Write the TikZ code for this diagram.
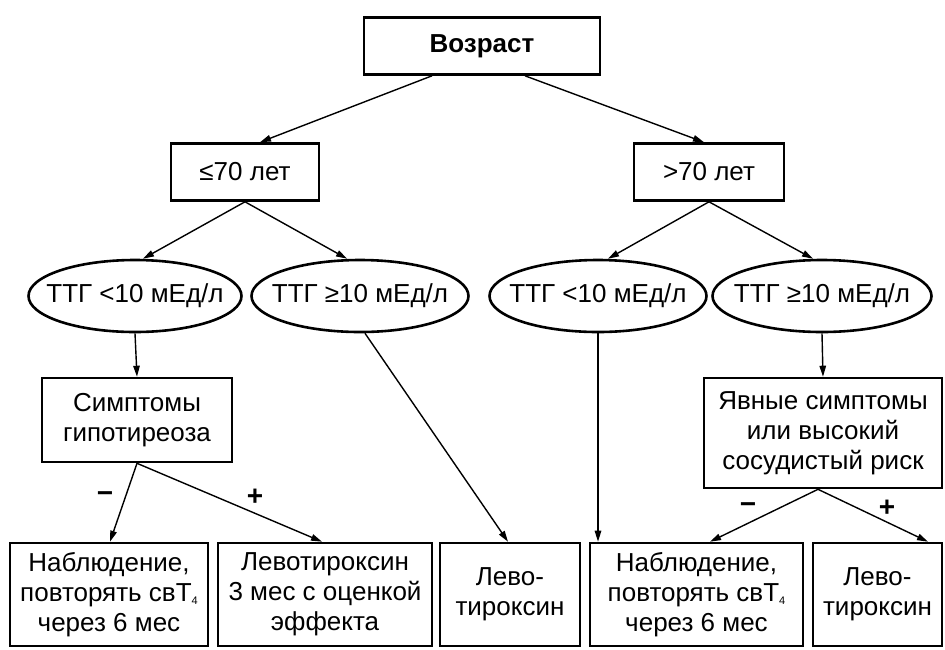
\documentclass[tikz,border=0pt]{standalone}
\usepackage{fontspec}
\setmainfont{Liberation Sans}
\usetikzlibrary{arrows.meta,shapes.geometric}
\newcommand{\subfour}{\raisebox{-3pt}{\fontsize{11}{11}\selectfont 4}}
\begin{document}
\begin{tikzpicture}[x=1pt,y=-1pt,
  txt/.style={align=center,inner sep=0pt,font=\fontsize{26}{30}\selectfont},
  box/.style={txt,draw,line width=2.6pt},
  oval/.style={txt,draw,ellipse,line width=2.6pt,inner xsep=-20pt},
  arr/.style={-{Triangle[length=11pt,width=6.5pt]},line width=1.4pt},
  sign/.style={inner sep=0pt,font=\fontsize{28}{28}\selectfont\bfseries}]
\useasboundingbox (0,0) rectangle (945,649);
\node[box,minimum width=236pt,minimum height=57pt] (root) at (482,46) {\bfseries Возраст};
\node[box,minimum width=148pt,minimum height=57pt] (le70) at (245,172) {≤70 лет};
\node[box,minimum width=150pt,minimum height=57pt] (gt70) at (709,172) {>70 лет};
\node[oval,minimum width=213pt,minimum height=72pt] (e1) at (135,296) {ТТГ <10 мЕд/л};
\node[oval,minimum width=217pt,minimum height=72pt] (e2) at (360,296) {ТТГ ≥10 мЕд/л};
\node[oval,minimum width=217pt,minimum height=72pt] (e3) at (598,296) {ТТГ <10 мЕд/л};
\node[oval,minimum width=219pt,minimum height=72pt] (e4) at (822,296) {ТТГ ≥10 мЕд/л};
\node[box,minimum width=190pt,minimum height=84pt] (symp) at (137,420) {Симптомы\\гипотиреоза};
\node[box,minimum width=238pt,minimum height=110pt] (yav) at (823,433) {Явные симптомы\\или высокий\\сосудистый риск};
\node[box,minimum width=198pt,minimum height=103pt] (b1) at (109,594.5) {Наблюдение,\\повторять свТ\subfour\\через 6 мес};
\node[box,minimum width=214pt,minimum height=103pt] (b2) at (325,594.5) {Левотироксин\\3 мес с оценкой\\эффекта};
\node[box,minimum width=140pt,minimum height=103pt] (b3) at (510,594.5) {Лево-\\тироксин};
\node[box,minimum width=213pt,minimum height=103pt] (b4) at (696.5,594.5) {Наблюдение,\\повторять свТ\subfour\\через 6 мес};
\node[box,minimum width=129pt,minimum height=103pt] (b5) at (877.5,594.5) {Лево-\\тироксин};
\draw[arr] ([xshift=-50pt]root.south) -- ([xshift=15pt]le70.north);
\draw[arr] ([xshift=43pt]root.south) -- ([xshift=-5pt]gt70.north);
\draw[arr] (le70.south) -- ([xshift=8pt]e1.north);
\draw[arr] (le70.south) -- ([xshift=-13pt]e2.north);
\draw[arr] (gt70.south) -- ([xshift=10pt]e3.north);
\draw[arr] (gt70.south) -- ([xshift=-9pt]e4.north);
\draw[arr] (e1.south) -- (symp.north);
\draw[arr] (e4.south) -- (yav.north);
\draw[arr] (symp.south) -- ([xshift=1pt]b1.north);
\draw[arr] (symp.south) -- ([xshift=-3pt]b2.north);
\draw[arr] ([xshift=5pt]e2.south) -- ([xshift=-2pt]b3.north);
\draw[arr] (e3.south) -- (e3.south |- b4.north);
\draw[arr] ([xshift=-5pt]yav.south) -- ([xshift=13.5pt]b4.north);
\draw[arr] ([xshift=-5pt]yav.south) -- ([xshift=50.5pt]b5.north);
\node[sign] (m1) at (105,497) {−};
\node[sign] (p1) at (255,497) {+};
\node[sign] (m2) at (748,508) {−};
\node[sign] (p2) at (887,508) {+};
\end{tikzpicture}
\end{document}
